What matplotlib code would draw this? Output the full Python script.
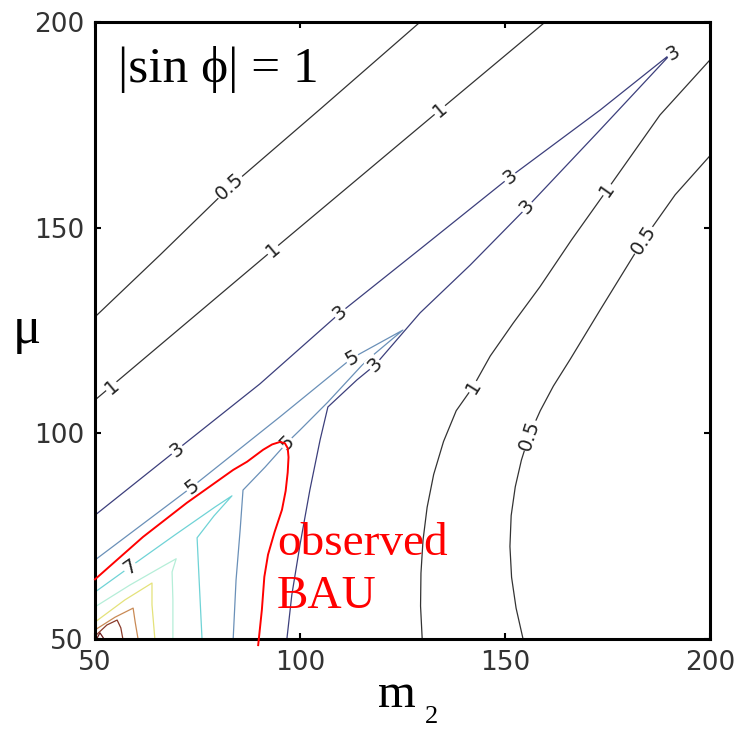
import matplotlib
matplotlib.use("Agg")
import matplotlib.pyplot as plt

# contour branches: (m2 values, mu values)
c05_left_m2 = [50.0, 65.9, 82.9, 104.9, 129.3]
c05_left_mu = [128.3, 143.4, 159.9, 178.8, 200.0]

c1_left_m2 = [50.0, 93.4, 134.1, 159.8]
c1_left_mu = [108.1, 144.6, 178.6, 200.0]

c3_m2 = [50.0, 70.0, 90.2, 109.8, 129.3, 151.2, 173.2, 190.7,
         173.2, 155.4, 141.5, 129.3, 118.3, 113.9, 106.8, 104.9,
         102.4, 100.0, 98.0, 96.8]
c3_mu = [80.1, 96.0, 112.0, 129.3, 144.8, 162.3, 178.6, 192.5,
         173.8, 155.0, 140.9, 129.3, 116.6, 113.0, 106.4, 98.4,
         86.2, 72.9, 60.7, 50.0]

c5_m2 = [50.0, 73.7, 95.1, 112.7, 125.1, 115.9, 106.8, 100.0,
         96.8, 91.5, 86.1, 85.4, 84.4, 83.7]
c5_mu = [69.2, 87.0, 104.0, 118.3, 125.1, 117.4, 107.6, 100.8,
         97.7, 91.8, 86.2, 76.5, 64.3, 50.0]

c7_m2 = [50.0, 58.5, 69.5, 79.3, 83.4, 79.0, 74.9, 75.4, 76.1]
c7_mu = [61.4, 67.5, 75.3, 82.1, 84.8, 79.9, 74.6, 64.3, 50.0]

c9_m2 = [50.0, 58.5, 67.1, 69.8, 68.8, 69.0, 69.0]
c9_mu = [57.8, 63.1, 68.0, 69.5, 66.3, 59.5, 50.0]

c11_m2 = [50.0, 57.3, 63.9, 63.9, 64.6]
c11_mu = [54.1, 59.5, 63.6, 58.3, 50.0]

c13_m2 = [50.0, 54.9, 59.3, 59.8, 60.5]
c13_mu = [52.2, 55.3, 57.5, 54.1, 50.0]

c15_m2 = [50.0, 52.9, 55.4, 56.3, 56.8]
c15_mu = [50.7, 53.4, 54.6, 52.7, 50.0]

c17_m2 = [50.4, 51.2, 52.2]
c17_mu = [50.0, 51.5, 50.0]

c1_right_m2 = [129.8, 129.4, 129.5, 130.0, 131.0, 132.6, 135.0, 138.1,
               142.2, 146.4, 152.0, 158.5, 166.2, 174.9, 187.8, 200.0]
c1_right_mu = [50.0, 58.0, 66.0, 74.0, 82.0, 90.0, 98.0, 105.5,
               111.3, 118.8, 126.8, 135.6, 147.0, 159.2, 177.4, 190.8]

c05_right_m2 = [154.4, 152.7, 151.6, 151.2, 151.5, 152.5, 154.0, 155.9,
                158.6, 161.8, 165.9, 173.2, 183.7, 191.5, 200.0]
c05_right_mu = [50.0, 57.5, 65.0, 72.5, 80.0, 87.0, 93.5, 99.5,
                105.5, 111.5, 118.0, 130.0, 147.0, 158.0, 167.5]

# observed BAU boundary
bau_m2 = [50.0, 61.7, 72.4, 83.7, 87.1, 91.0, 93.2, 95.1, 96.3, 97.0,
          97.2, 97.0, 96.5, 95.6, 93.8, 92.2, 91.3, 90.7, 89.8]
bau_mu = [64.5, 74.8, 83.1, 91.1, 93.1, 96.0, 97.3, 97.9, 97.6, 96.4,
          94.2, 90.5, 86.0, 81.4, 76.0, 70.5, 65.1, 57.1, 48.5]

# inline contour labels
label_text = ["0.5", "1", "1", "1", "3", "3", "3", "3", "3", "3",
              "5", "5", "5", "7", "1", "1", "0.5", "0.5"]
label_m2 = [82.9, 54.2, 93.4, 134.1, 70.0, 109.8, 151.2, 191.0, 155.4, 118.3,
            73.7, 112.7, 96.8, 58.5, 142.2, 174.9, 155.9, 183.7]
label_mu = [159.9, 111.2, 144.6, 178.6, 96.0, 129.3, 162.3, 192.5, 155.0, 116.6,
            87.0, 118.3, 97.7, 67.5, 111.3, 159.2, 99.5, 147.0]
label_angle = [42, 40, 40, 40, 38, 40, 37, 30, 47, 45,
               37, 30, 45, 35, 58, 55, 72, 57]

lines = [
    (c05_left_m2, c05_left_mu, "#333333"),
    (c1_left_m2, c1_left_mu, "#333333"),
    (c05_right_m2, c05_right_mu, "#333333"),
    (c1_right_m2, c1_right_mu, "#333333"),
    (c3_m2, c3_mu, "#3c3f7c"),
    (c5_m2, c5_mu, "#6a90b8"),
    (c7_m2, c7_mu, "#6fd3d6"),
    (c9_m2, c9_mu, "#b5eed8"),
    (c11_m2, c11_mu, "#e4e27a"),
    (c13_m2, c13_mu, "#c98a55"),
    (c15_m2, c15_mu, "#8a3a2a"),
    (c17_m2, c17_mu, "#6a1a1a"),
]

fig = plt.figure(figsize=(7.41, 7.29), dpi=100)
ax = fig.add_axes([0.1282, 0.1235, 0.83, 0.8463])

for xs, ys, col in lines:
    ax.plot(xs, ys, color=col, lw=0.9, zorder=2)

for t, x, y, a in zip(label_text, label_m2, label_mu, label_angle):
    ax.text(x, y, t, rotation=a, rotation_mode="anchor", ha="center",
            va="center", fontsize=14, color="#222222", zorder=3,
            bbox=dict(facecolor="white", edgecolor="none", pad=0.4))

ax.plot(bau_m2, bau_mu, color="red", lw=1.4, zorder=5, clip_on=False)

serif = ["Liberation Serif", "DejaVu Serif"]
ax.text(55.6, 185.4, "|sin \u03d5| = 1", fontsize=37, family=serif,
        va="baseline", ha="left", zorder=6)
ax.text(94.4, 70.4, "observed", fontsize=34, family=serif, color="red",
        va="baseline", ha="left", zorder=6)
ax.text(94.4, 57.5, "BAU", fontsize=34, family=serif, color="red",
        va="baseline", ha="left", zorder=6)

fig.text(0.510, 0.0302, "m", fontsize=35, family=serif, va="baseline")
fig.text(0.5735, 0.0082, "2", fontsize=19, family=serif, va="baseline")
fig.text(0.0175, 0.5295, "\u03bc", fontsize=38, family=serif, va="baseline")

ax.set_xlim(50, 200)
ax.set_ylim(50, 200)
ax.set_xticks([50, 100, 150, 200])
ax.set_yticks([50, 100, 150, 200])
ax.tick_params(direction="in", length=4, width=1.5, top=True, right=True,
               labelsize=19, labelcolor="#333333", pad=8)
for s in ax.spines.values():
    s.set_linewidth(2.2)

fig.savefig("out.png", dpi=100)
